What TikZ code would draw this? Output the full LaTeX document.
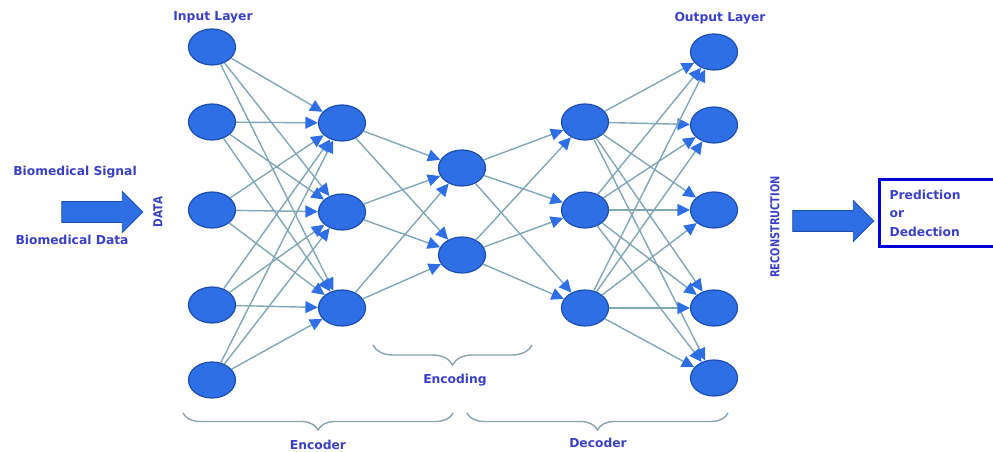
\documentclass[tikz,border=0pt]{standalone}
\usepackage{fontspec}
\setmainfont{DejaVu Sans}
\usetikzlibrary{arrows.meta,decorations.pathreplacing,positioning,shapes.geometric,shapes.arrows}

\definecolor{nodeblue}{HTML}{2F6FE6}
\definecolor{rimblue}{HTML}{1D4FAE}
\definecolor{textblue}{HTML}{3A40C6}
\definecolor{edgegray}{HTML}{7FA7B6}
\definecolor{bracegray}{HTML}{8AA3AE}

\tikzset{
  neuron/.style={ellipse, draw=rimblue, fill=nodeblue, line width=0.7pt,
    minimum width=0.94cm, minimum height=0.72cm, inner sep=0pt},
  link/.style={draw=edgegray, line width=0.8pt,
    -{Triangle[length=0.25cm, width=0.24cm, color=nodeblue]}},
  label/.style={text=textblue, font=\bfseries\fontsize{7}{8.5}\selectfont},
  bigarrow/.style={single arrow, draw=rimblue, fill=nodeblue, line width=0.5pt,
    inner sep=0.2cm, single arrow head extend=0.2cm, minimum height=1.62cm},
  bracket/.style={draw=bracegray, line width=0.8pt,
    decorate, decoration={brace, mirror, amplitude=0.34cm}},
}

\begin{document}
\begin{tikzpicture}[x=0.02cm, y=-0.02cm]
  \useasboundingbox (0,0) rectangle (993,452);

  % layers of the network
  \foreach \i/\y in {1/47, 2/122, 3/210, 4/305, 5/380}
    \node[neuron] (in\i) at (212,\y) {};
  \foreach \i/\y in {1/123, 2/212, 3/308}
    \node[neuron] (hA\i) at (342,\y) {};
  \foreach \i/\y in {1/168, 2/255}
    \node[neuron] (enc\i) at (462,\y) {};
  \foreach \i/\y in {1/122, 2/210, 3/308}
    \node[neuron] (hB\i) at (585,\y) {};
  \foreach \i/\y in {1/52, 2/125, 3/210, 4/308, 5/378}
    \node[neuron] (out\i) at (714,\y) {};

  % connections
  \foreach \i in {1,...,5}
    \foreach \j in {1,2,3}
      \draw[link] (in\i) -- (hA\j);
  \foreach \i in {1,2,3}
    \foreach \j in {1,2}
      \draw[link] (hA\i) -- (enc\j);
  \foreach \i in {1,2}
    \foreach \j in {1,2,3}
      \draw[link] (enc\i) -- (hB\j);
  \foreach \i in {1,2,3}
    \foreach \j in {1,...,5}
      \draw[link] (hB\i) -- (out\j);

  % layer names
  \node[label] (inname) at (213,17) {Input Layer};
  \node[label] (outname) at (720,18) {Output Layer};

  % input side
  \node[label] (signal) at (75,172) {Biomedical Signal};
  \node[label] (bdata) at (72,240) {Biomedical Data};
  \node[bigarrow] (inarrow) at (97,212) {};
  \node[label, rotate=90] (data) at (158,212) {\scalebox{0.85}[1]{DATA}};

  % output side
  \node[label, rotate=90] (recon) at (775,227) {\scalebox{0.8}[1]{RECONSTRUCTION}};
  \node[bigarrow] (outarrow) at (828,221) {};
  \node[draw=blue!85!black, line width=1.8pt, minimum width=2.5cm, minimum height=1.34cm,
    anchor=west, label, align=left, text width=2.1cm, inner sep=0pt] (result) at (878,213)
    {Prediction\\[2pt] or\\[2pt] Dedection};

  % braces
  \coordinate (encL) at (183,413);
  \coordinate (encR) at (453,413);
  \coordinate (decL) at (467,413);
  \coordinate (decR) at (728,413);
  \coordinate (midL) at (373,345);
  \coordinate (midR) at (532,345);
  \draw[bracket] (encL) -- (encR);
  \draw[bracket] (decL) -- (decR);
  \draw[bracket, decoration={amplitude=0.4cm}] (midL) -- (midR);
  \node[label] (encoder) at (318,445) {Encoder};
  \node[label] (decoder) at (598,443) {Decoder};
  \node[label] (encoding) at (455,380) {Encoding};
\end{tikzpicture}
\end{document}
